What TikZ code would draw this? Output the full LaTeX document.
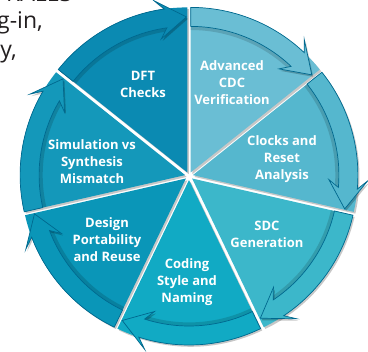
\documentclass[tikz,border=0pt]{standalone}
\usepackage{fontspec}
\setmainfont{Open Sans}
\usetikzlibrary{calc}
\definecolor{cCDC}{RGB}{106,190,212}
\definecolor{cClk}{RGB}{85,183,206}
\definecolor{cSDC}{RGB}{60,183,202}
\definecolor{cCod}{RGB}{17,170,196}
\definecolor{cDes}{RGB}{10,150,184}
\definecolor{cSim}{RGB}{20,152,186}
\definecolor{cDFT}{RGB}{11,138,178}
\definecolor{edge}{RGB}{0,104,142}
\definecolor{bodytext}{RGB}{35,31,32}
\tikzset{
  lbl/.style={text=white,font=\fontsize{13bp}{17bp}\selectfont\bfseries,align=center},
  sidetext/.style={text=bodytext,font=\fontsize{23bp}{28bp}\selectfont,inner sep=0pt},
}
\begin{document}
\begin{tikzpicture}[x=1bp,y=1bp]
\useasboundingbox (0,0) rectangle (368,-352);
\begin{scope}
\clip (0,0) rectangle (368,-352);
\node[sidetext,anchor=base west] (t0) at (6,-1) {RALES};
\node[sidetext,anchor=base east] (t1) at (43,-28) {g-in,};
\node[sidetext,anchor=base east] (t2) at (17,-57) {y,};
\end{scope}
\def\R{165}
\def\W{19}
\begin{scope}[shift={(189,-176)}]
% shadows
\foreach \a in {90,38.571,-12.857,-64.286,-115.714,-167.143,141.429}{
  \pgfmathsetmacro\b{\a-51.4286}
  \pgfmathsetmacro\m{\a-25.714}
  \begin{scope}[shift={(\m:4)}]
    \fill[black,opacity=.22,shift={(1.6,-1.8)}] (0,0) -- (\a:\R) arc[start angle=\a,end angle=\b,radius=\R] -- cycle;
  \end{scope}
}
% wedges
\foreach \a/\col in {90/cCDC,38.571/cClk,-12.857/cSDC,-64.286/cCod,-115.714/cDes,-167.143/cSim,141.429/cDFT}{
  \pgfmathsetmacro\b{\a-51.4286}
  \pgfmathsetmacro\m{\a-25.714}
  \begin{scope}[shift={(\m:4)}]
    \fill[\col] (0,0) -- (\a:\R) arc[start angle=\a,end angle=\b,radius=\R] -- cycle;
  \end{scope}
}
% arrows
\foreach \a/\col in {90/cCDC,38.571/cClk,-12.857/cSDC,-64.286/cCod,-115.714/cDes,-167.143/cSim,141.429/cDFT}{
  \pgfmathsetmacro\b{\a-51.4286}
  \pgfmathsetmacro\m{\a-25.714}
  \pgfmathsetmacro\hb{\b+8}
  \pgfmathsetmacro\hbb{\b+11}
  \pgfmathsetmacro\tp{\b+0.3}
  \pgfmathsetmacro\ro{\R+10}
  \pgfmathsetmacro\ri{\R-\W}
  \pgfmathsetmacro\rii{\R-\W-10}
  \pgfmathsetmacro\rt{\R-\W/2}
  \pgfmathsetmacro\rs{\R-\W-1.8}
  \begin{scope}[shift={(\m:4)}]
    \draw[black,opacity=.14,line width=3.6] (\a:\rs) arc[start angle=\a,end angle=\hb,radius=\rs];
    \fill[black,opacity=.22,shift={(1.4,-2)}] (\hb:\R) -- (\hbb:\ro) -- (\tp:\rt) -- (\hbb:\rii) -- (\hb:\ri) -- cycle;
    \filldraw[fill=\col,draw=edge,line width=.7] (\a:\R) arc[start angle=\a,end angle=\hb,radius=\R]
      -- (\hbb:\ro) -- (\tp:\rt) -- (\hbb:\rii) -- (\hb:\ri)
      arc[start angle=\hb,end angle=\a,radius=\ri] -- cycle;
  \end{scope}
}
\end{scope}
% labels
\node[lbl] (dft) at (143,-84) {DFT\\Checks};
\node[lbl] (cdc) at (232,-83) {Advanced\\CDC\\Verification};
\node[lbl] (clk) at (282,-159) {Clocks and\\Reset\\Analysis};
\node[lbl] (sdc) at (267,-234) {SDC\\Generation};
\node[lbl] (cod) at (187,-282) {Coding\\Style and\\Naming};
\node[lbl] (des) at (107,-240) {Design\\Portability\\and Reuse};
\node[lbl] (sim) at (92,-162) {Simulation vs\\Synthesis\\Mismatch};
\end{tikzpicture}
\end{document}
